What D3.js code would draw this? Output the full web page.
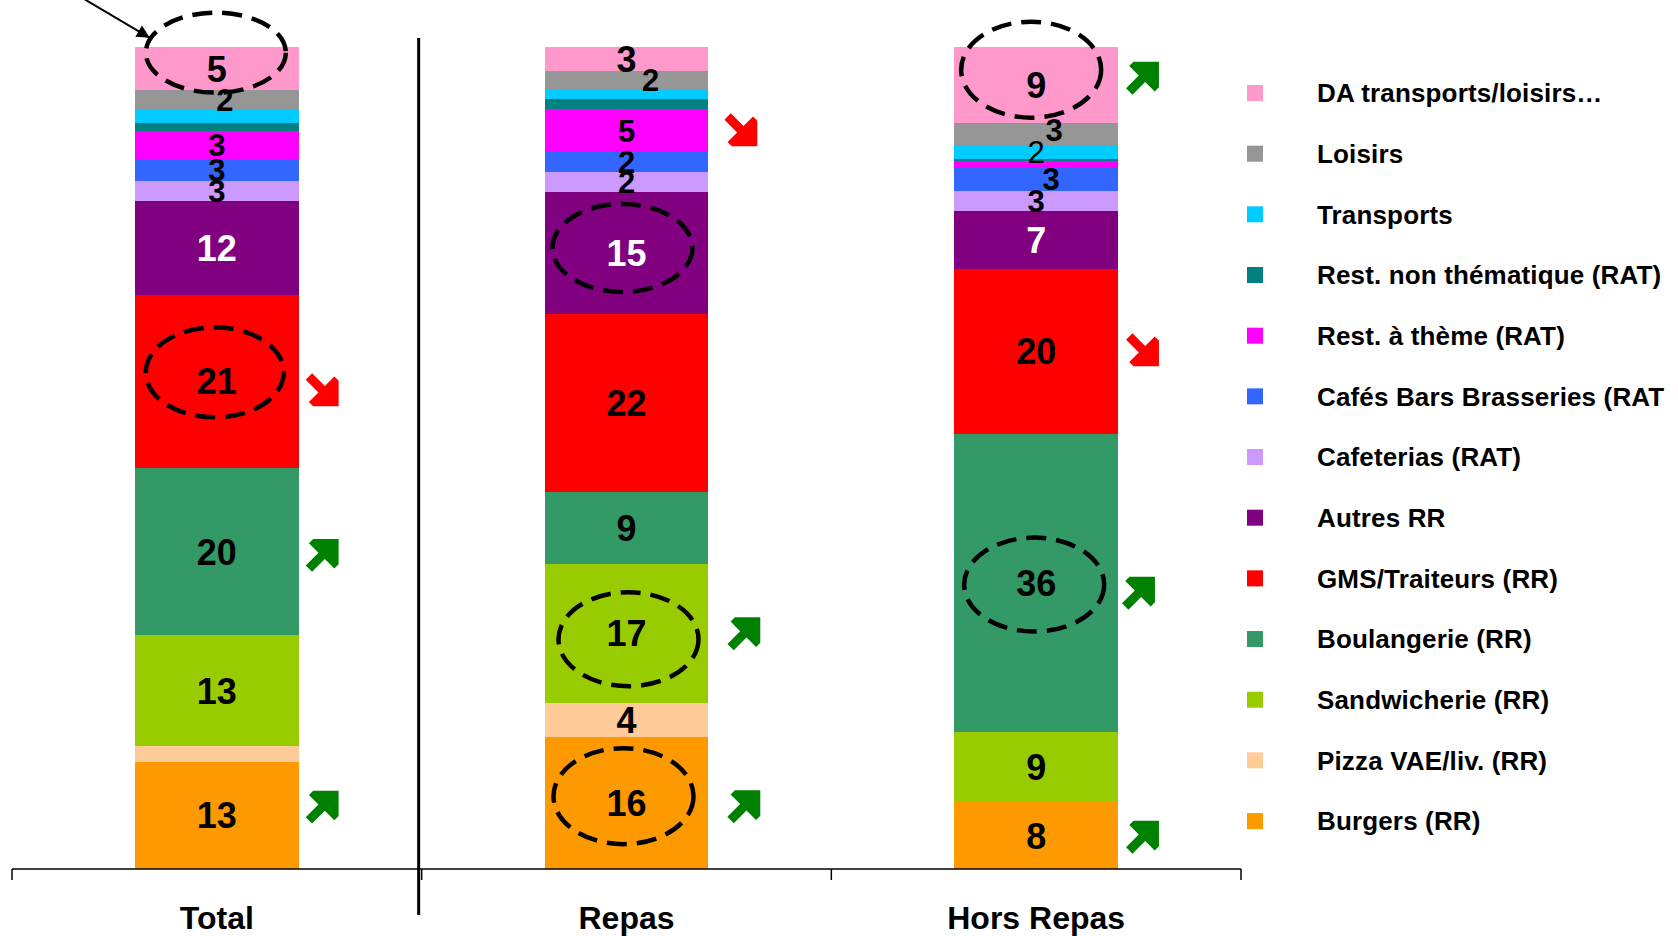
<!DOCTYPE html>
<html>
<head>
<meta charset="utf-8">
<script src="https://cdn.jsdelivr.net/npm/d3@7/dist/d3.min.js"></script>
<style>
  html, body { margin: 0; padding: 0; background: #fff; }
  svg { display: block; font-family: "Liberation Sans", Arial, sans-serif; font-weight: bold; }
</style>
</head>
<body>
<svg id="chart" width="1678" height="936"></svg>
<script>
// categories on the x axis
var categories = ["Total", "Repas", "Hors Repas"];

// series, legend order (top of the stack first)
var seriesNames = [
  "DA transports/loisirs…",
  "Loisirs",
  "Transports",
  "Rest. non thématique (RAT)",
  "Rest. à thème (RAT)",
  "Cafés Bars Brasseries (RAT",
  "Cafeterias (RAT)",
  "Autres RR",
  "GMS/Traiteurs (RR)",
  "Boulangerie (RR)",
  "Sandwicherie (RR)",
  "Pizza VAE/liv. (RR)",
  "Burgers (RR)"
];
var seriesColors = ["#FF99CC", "#969696", "#00CCFF", "#008080", "#FF00FF", "#3366FF", "#CC99FF",
                    "#800080", "#FF0000", "#339966", "#99CC00", "#FFCC99", "#FF9900"];

// shares in %, same order as seriesNames
var totalValues     = [5.3, 2.4, 1.5, 1.0, 3.4, 2.7, 2.4, 11.4, 21.1, 20.3, 13.5, 1.9, 13.0];
var repasValues     = [2.9, 2.2, 1.2, 1.2, 5.3, 2.4, 2.4, 14.9, 21.6, 8.7, 16.9, 4.2, 16.0];
var horsRepasValues = [9.2, 2.7, 1.7, 0.3, 0.7, 2.9, 2.4, 7.1, 20.0, 36.2, 8.6, 0.0, 8.1];

// printed labels inside the segments
var totalLabels     = ["5", "2", "", "", "3", "3", "3", "12", "21", "20", "13", "", "13"];
var repasLabels     = ["3", "2", "", "", "5", "2", "2", "15", "22", "9", "17", "4", "16"];
var horsRepasLabels = ["9", "3", "2", "", "", "3", "3", "7", "20", "36", "9", "", "8"];

// trend arrows next to the bars
var trends = [
  {cat: "Total", series: 8, dir: "down", dx: 25, dy: 10},
  {cat: "Total", series: 9, dir: "up", dx: 25, dy: 2},
  {cat: "Total", series: 12, dir: "up", dx: 25, dy: -10},
  {cat: "Repas", series: 4, dir: "down", dx: 34, dy: 1},
  {cat: "Repas", series: 10, dir: "up", dx: 37, dy: -1},
  {cat: "Repas", series: 12, dir: "up", dx: 37, dy: 2},
  {cat: "Hors Repas", series: 0, dir: "up", dx: 26, dy: -8},
  {cat: "Hors Repas", series: 8, dir: "down", dx: 26, dy: 0},
  {cat: "Hors Repas", series: 9, dir: "up", dx: 22, dy: 9},
  {cat: "Hors Repas", series: 12, dir: "up", dx: 26, dy: 0}
];

// dashed circles drawn around some values
var highlights = [
  {cat: "Total", series: 0, dx: -1, dy: -16, rx: 70, ry: 40, pointer: true},
  {cat: "Total", series: 8, dx: -2, dy: -9, rx: 69, ry: 45},
  {cat: "Repas", series: 7, dx: -4, dy: -5, rx: 70, ry: 44},
  {cat: "Repas", series: 10, dx: 2, dy: 6, rx: 70, ry: 47},
  {cat: "Repas", series: 12, dx: -3, dy: -7, rx: 70, ry: 48},
  {cat: "Hors Repas", series: 0, dx: -5, dy: -15, rx: 70, ry: 48},
  {cat: "Hors Repas", series: 9, dx: -2, dy: 2, rx: 70, ry: 47}
];

var valuesByCat = {"Total": totalValues, "Repas": repasValues, "Hors Repas": horsRepasValues};
var labelsByCat = {"Total": totalLabels, "Repas": repasLabels, "Hors Repas": horsRepasLabels};

// small nudges for crowded labels
var labelNudge = {
  "Total|1": [8, 0],
  "Repas|1": [24, 0],
  "Hors Repas|1": [18, -4],
  "Hors Repas|5": [15, 0]
};

var svg = d3.select("#chart");
var baseY = 869;

var x = d3.scaleBand().domain(categories).range([12, 1241]).paddingInner(0).paddingOuter(0);
var y = d3.scaleLinear().domain([0, 100]).range([baseY, 46]);
var barW = x.bandwidth() * 0.4;

var table = categories.map(function(c) {
  var row = {cat: c};
  seriesNames.forEach(function(s, i) { row[s] = valuesByCat[c][i]; });
  return row;
});
var stack = d3.stack().keys(seriesNames.slice().reverse());
var layers = stack(table);

function segFor(cat, si) {
  var layer = layers.filter(function(l) { return l.key === seriesNames[si]; })[0];
  return layer[categories.indexOf(cat)];
}
function cx(cat) { return x(cat) + x.bandwidth() / 2; }
function cy(cat, si) { var d = segFor(cat, si); return (y(d[0]) + y(d[1])) / 2; }

/* bars */
var gLayers = svg.append("g").selectAll("g").data(layers).enter().append("g")
  .attr("fill", function(l) { return seriesColors[seriesNames.indexOf(l.key)]; });
gLayers.selectAll("rect").data(function(l) { return l; }).enter().append("rect")
  .attr("x", function(d) { return cx(d.data.cat) - barW / 2; })
  .attr("width", barW)
  .attr("y", function(d) { return y(d[1]); })
  .attr("height", function(d) { return Math.max(0, y(d[0]) - y(d[1])); })
  .attr("shape-rendering", "crispEdges");

/* value labels */
var gLab = svg.append("g").attr("text-anchor", "middle");
categories.forEach(function(c) {
  seriesNames.forEach(function(s, i) {
    var txt = labelsByCat[c][i];
    if (!txt) return;
    var n = labelNudge[c + "|" + i] || [0, 0];
    var small = i >= 1 && i <= 6;
    gLab.append("text")
      .attr("x", cx(c) + n[0])
      .attr("y", cy(c, i) + n[1])
      .attr("dy", "0.36em")
      .style("font-size", (small ? 31 : 36) + "px")
      .style("font-weight", (c === "Hors Repas" && i === 2) ? "normal" : "bold")
      .attr("fill", i === 7 ? "#fff" : "#000")
      .text(txt);
  });
});

/* x axis */
var axis = d3.axisBottom(x).tickSize(0).tickPadding(37);
var gAxis = svg.append("g").attr("transform", "translate(0," + baseY + ")").call(axis);
gAxis.select(".domain").remove();
gAxis.selectAll("text").style("font-size", "32px").style("font-weight", "bold")
  .style("font-family", "'Liberation Sans', Arial, sans-serif").attr("fill", "#000");
var bounds = categories.map(function(c) { return x(c); }).concat([x.range()[1]]);
svg.append("line").attr("x1", x.range()[0]).attr("x2", x.range()[1])
  .attr("y1", baseY).attr("y2", baseY).attr("stroke", "#000").attr("stroke-width", 1.5);
svg.append("g").selectAll("line").data(bounds).enter().append("line")
  .attr("x1", function(d) { return d; }).attr("x2", function(d) { return d; })
  .attr("y1", baseY).attr("y2", baseY + 11)
  .attr("stroke", "#000").attr("stroke-width", 1.5);

// separator between Total and the rest
svg.append("line").attr("x1", x("Repas") - 3).attr("x2", x("Repas") - 3)
  .attr("y1", 38).attr("y2", 915).attr("stroke", "#000").attr("stroke-width", 3);

/* trend arrows (block arrow pointing +x, then rotated) */
var arrowPath = "M21,0 L3,-18 L-3,-18 L-3,-4.5 L-21,-4.5 L-21,4.5 L-3,4.5 L-3,18 L3,18 Z";
svg.append("g").selectAll("path").data(trends).enter().append("path")
  .attr("d", arrowPath)
  .attr("fill", function(d) { return d.dir === "up" ? "#008000" : "#FF0000"; })
  .attr("transform", function(d) {
    var px = cx(d.cat) + barW / 2 + d.dx;
    var py = cy(d.cat, d.series) + d.dy;
    return "translate(" + px + "," + py + ") rotate(" + (d.dir === "up" ? -45 : 45) + ")";
  });

/* dashed ellipses */
svg.append("g").selectAll("ellipse").data(highlights).enter().append("ellipse")
  .attr("cx", function(d) { return cx(d.cat) + d.dx; })
  .attr("cy", function(d) { return cy(d.cat, d.series) + d.dy; })
  .attr("rx", function(d) { return d.rx; })
  .attr("ry", function(d) { return d.ry; })
  .attr("fill", "none").attr("stroke", "#000")
  .attr("stroke-width", 4.5).attr("stroke-dasharray", "20,10");

// pointer arrow into the first circle
svg.append("defs").append("marker").attr("id", "head")
  .attr("viewBox", "0 0 10 10").attr("refX", 10).attr("refY", 5)
  .attr("markerWidth", 7.5).attr("markerHeight", 6.5).attr("markerUnits", "strokeWidth")
  .attr("orient", "auto")
  .append("path").attr("d", "M0,0 L10,5 L0,10 Z").attr("fill", "#000");
highlights.filter(function(d) { return d.pointer; }).forEach(function(d) {
  var ex = cx(d.cat) + d.dx, ey = cy(d.cat, d.series) + d.dy;
  var t = 0.38;
  var tx = ex - d.rx * Math.cos(t) - 1, ty = ey - d.ry * Math.sin(t);
  svg.append("line").attr("x1", tx - 100).attr("y1", ty - 59).attr("x2", tx).attr("y2", ty)
    .attr("stroke", "#000").attr("stroke-width", 2).attr("marker-end", "url(#head)");
});

/* legend */
var legend = svg.append("g").attr("transform", "translate(1247,93)");
var rows = legend.selectAll("g").data(seriesNames).enter().append("g")
  .attr("transform", function(d, i) { return "translate(0," + (i * 60.67) + ")"; });
rows.append("rect").attr("x", 0).attr("y", -8).attr("width", 16).attr("height", 16)
  .attr("fill", function(d, i) { return seriesColors[i]; });
rows.append("text").attr("x", 70).attr("dy", "0.36em")
  .style("font-size", "26px").style("letter-spacing", "0.15px").attr("fill", "#000")
  .text(function(d) { return d; });
</script>
</body>
</html>
